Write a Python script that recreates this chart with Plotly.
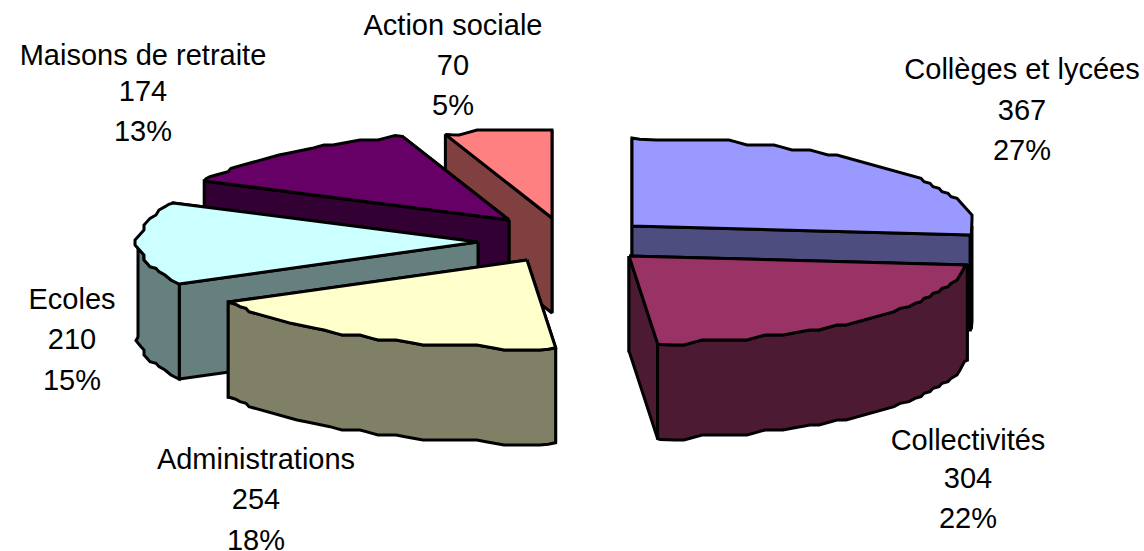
import numpy as np
import plotly.graph_objects as go

# data
categories = ["Collèges et lycées", "Collectivités", "Administrations", "Ecoles", "Maisons de retraite", "Action sociale"]
values = [367, 304, 254, 210, 174, 70]
percents = ["27%", "22%", "18%", "15%", "13%", "5%"]

# styles
top_colors = ["#9999FF", "#993366", "#FFFFCC", "#CCFFFF", "#660066", "#FF8080"]
side_colors = ["#4D4D80", "#4D1A33", "#808066", "#668080", "#330033", "#804040"]

# chart layout (pie projection and exploded slice centres, in page pixels)
apex_x = [632, 629, 527, 478, 509, 552]
apex_y = [226, 256, 260, 242, 220, 218]
label_x = [1022, 968, 256, 72, 143, 453]
label_y = [[72, 113, 153], [443, 481, 521], [462, 502, 543], [302, 342, 383], [58, 94, 134], [28, 68, 108]]
RX, RY, DEPTH = 340, 88, 95
STEP_X, STEP_Y = 9, 5           # coarse rasterised look of the arcs
DRAW_ORDER = [0, 5, 4, 3, 2, 1]

fracs = np.array(values) / sum(values)
edges = np.concatenate([[0], np.cumsum(fracs)]) * 2 * np.pi


def arc(cx, cy, a0, a1):
    n = max(int(abs(a1 - a0) * RX / 3), 3)
    t = np.linspace(a0, a1, n)
    x = cx + RX * np.sin(t)
    y = cy - RY * np.cos(t)
    # stepped outline like the low-resolution original, slightly softened
    xs, ys = [x[0]], [y[0]]
    for xi, yi in zip(x[1:-1], y[1:-1]):
        qx = np.round(xi / STEP_X) * STEP_X
        qy = np.round(yi / STEP_Y) * STEP_Y
        if (qx, qy) != (xs[-1], ys[-1]):
            xs.append(qx); ys.append(qy)
    xs.append(x[-1]); ys.append(y[-1])
    xs, ys = np.array(xs), np.array(ys)
    if len(xs) > 2:
        xs[1:-1] = (xs[:-2] + xs[1:-1] + xs[2:]) / 3
        ys[1:-1] = (ys[:-2] + ys[1:-1] + ys[2:]) / 3
    return xs, ys


def poly(x, y, color):
    return go.Scatter(x=list(x) + [x[0]], y=list(y) + [y[0]], mode="lines", fill="toself",
                      fillcolor=color, line=dict(color="black", width=3),
                      hoverinfo="skip", showlegend=False)


fig = go.Figure()
for i in DRAW_ORDER:
    cx, cy = apex_x[i], apex_y[i]
    a0, a1 = edges[i], edges[i + 1]
    side = side_colors[i]
    radials = sorted([a0, a1], key=lambda a: -np.cos(a))
    for a in radials:
        px, py = cx + RX * np.sin(a), cy - RY * np.cos(a)
        fig.add_trace(poly([cx, px, px, cx], [cy, py, py + DEPTH, cy + DEPTH], side))
    lo, hi = max(a0, np.pi / 2), min(a1, 3 * np.pi / 2)
    if hi > lo:
        ax, ay = arc(cx, cy, lo, hi)
        fig.add_trace(poly(np.concatenate([ax, ax[::-1]]),
                           np.concatenate([ay, ay[::-1] + DEPTH]), side))
    ax, ay = arc(cx, cy, a0, a1)
    fig.add_trace(poly(np.concatenate([[cx], ax]), np.concatenate([[cy], ay]), top_colors[i]))

for i, name in enumerate(categories):
    fig.add_trace(go.Scatter(x=[label_x[i]] * 3, y=label_y[i], mode="text",
                             text=[name, str(values[i]), percents[i]],
                             textposition="middle center", cliponaxis=False,
                             textfont=dict(family="Liberation Sans", size=29, color="black"),
                             hoverinfo="skip", showlegend=False))

fig.update_layout(width=1144, height=551, margin=dict(l=0, r=0, t=0, b=0),
                  paper_bgcolor="white", plot_bgcolor="white",
                  xaxis=dict(range=[0, 1144], visible=False, fixedrange=True),
                  yaxis=dict(range=[551, 0], visible=False, fixedrange=True))
fig.write_html("out.html", config=dict(displayModeBar=False),
               post_script="document.body.style.margin='0';document.body.style.overflow='hidden';")
